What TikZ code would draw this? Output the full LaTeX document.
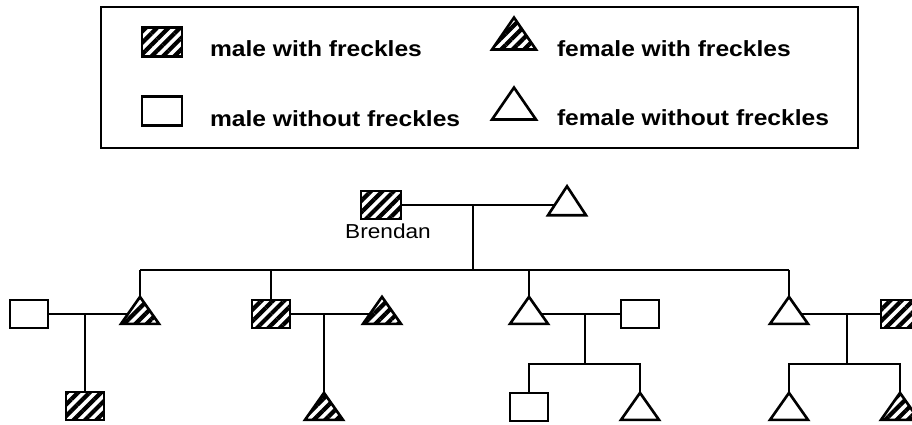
\documentclass[tikz,border=0pt]{standalone}
\usepackage{fontspec}
\setmainfont{Liberation Sans}
\newfontfamily\keyfont[FakeStretch=1.12]{Liberation Sans}
\usetikzlibrary{positioning, shapes.geometric, patterns.meta}

\begin{document}
\begin{tikzpicture}[x=0.02cm, y=-0.02cm, line width=1.5pt, node distance=22.2mm,
  every node/.style={inner sep=0pt, outer sep=0pt},
  male/.style={draw, rectangle, minimum width=7.6mm, minimum height=5.6mm},
  female/.style={draw, isosceles triangle, isosceles triangle stretches, shape border rotate=90, minimum width=7.6mm, minimum height=5.4mm},
  keymale/.style={male, minimum width=8mm, minimum height=5.8mm},
  keyfemale/.style={female, minimum width=8.8mm, minimum height=6.4mm},
  freckles/.style={pattern={Lines[angle=45, distance=4.6pt, line width=2.4pt]}},
  keytext/.style={anchor=base west, font=\keyfont\bfseries\fontsize{12.5}{15}\selectfont}]

\def\sibrow{270}
\def\kidrow{364}

\useasboundingbox[fill=white] (0,0) rectangle (912,425);
\clip (0,0) rectangle (912,425);

  % Legend
  \node (legend) [draw, minimum width=15.14cm, minimum height=2.82cm, anchor=north west] at (101,7) {};
  \node (keyfm) [keymale, freckles] at (162,42) {};
  \node (keym) [keymale] at (162,111) {};
  \node (keyff) [keyfemale, freckles] at (514,38) {};
  \node (keyf) [keyfemale] at (514,108) {};
  \node (keyfmtext) [keytext] at (210,57) {male with freckles};
  \node (keymtext) [keytext] at (210,127) {male without freckles};
  \node (keyfftext) [keytext] at (557,57) {female with freckles};
  \node (keyftext) [keytext] at (557,126) {female without freckles};

  % Grandparents
  \node (brendan) [male, freckles, minimum width=8mm] at (381,205) {};
  \node (brendanname) [below=0.9mm of brendan, xshift=1.4mm, font=\keyfont\fontsize{11.5}{13}\selectfont] {Brendan};
  \node (grandma) [female, minimum height=5.8mm] at (567,205) {};
  \coordinate (sib) at (473,\sibrow);

  \draw (brendan) -- (grandma);
  \draw (sib |- brendan) -- (sib);

  % Children
  \node (daughtera) [female, freckles] at (140,314) {};
  \node (husbanda) [left of=daughtera, male] {};
  \node (son) [male, freckles] at (271,314) {};
  \node (wife) [right of=son, female, freckles] {};
  \node (daughterb) [female] at (529,314) {};
  \node (husbandb) [right of=daughterb, male] {};
  \node (daughterc) [female] at (789,314) {};
  \node (husbandc) [right of=daughterc, male, freckles] {};

  \draw (daughtera.apex |- sib) -- (daughterc.apex |- sib);
  \draw (daughtera.apex |- sib) -- (daughtera.apex);
  \draw (son.north |- sib) -- (son.north);
  \draw (daughterb.apex |- sib) -- (daughterb.apex);
  \draw (daughterc.apex |- sib) -- (daughterc.apex);

  \draw (husbanda.east) -- (daughtera.west);
  \draw (son.east) -- (wife.west);
  \draw (daughterb.east) -- (husbandb.west);
  \draw (daughterc.east) -- (husbandc.west);

  % Grandchildren
  \node (grandsona) [male, freckles] at (85,406) {};
  \node (granddaughtera) [female, freckles] at (324,410) {};
  \node (grandsonb) [below of=daughterb, node distance=18.6mm, male] {};
  \node (granddaughterb) [female] at (640,410) {};
  \node (granddaughterc) [female] at (789,410) {};
  \node (granddaughterd) [female, freckles] at (900,410) {};
  \coordinate (kidsb) at (585,\kidrow);
  \coordinate (kidsc) at (847,\kidrow);

  \draw (grandsona.north) -- (grandsona.north |- husbanda);
  \draw (granddaughtera.apex) -- (granddaughtera.apex |- son);
  \draw (kidsb) -- (kidsb |- husbandb);
  \draw (grandsonb.north) -- (grandsonb.north |- kidsb) -- (granddaughterb.apex |- kidsb) -- (granddaughterb.apex);
  \draw (kidsc) -- (kidsc |- husbandc);
  \draw (granddaughterc.apex) -- (granddaughterc.apex |- kidsc) -- (granddaughterd.apex |- kidsc) -- (granddaughterd.apex);

\end{tikzpicture}
\end{document}
